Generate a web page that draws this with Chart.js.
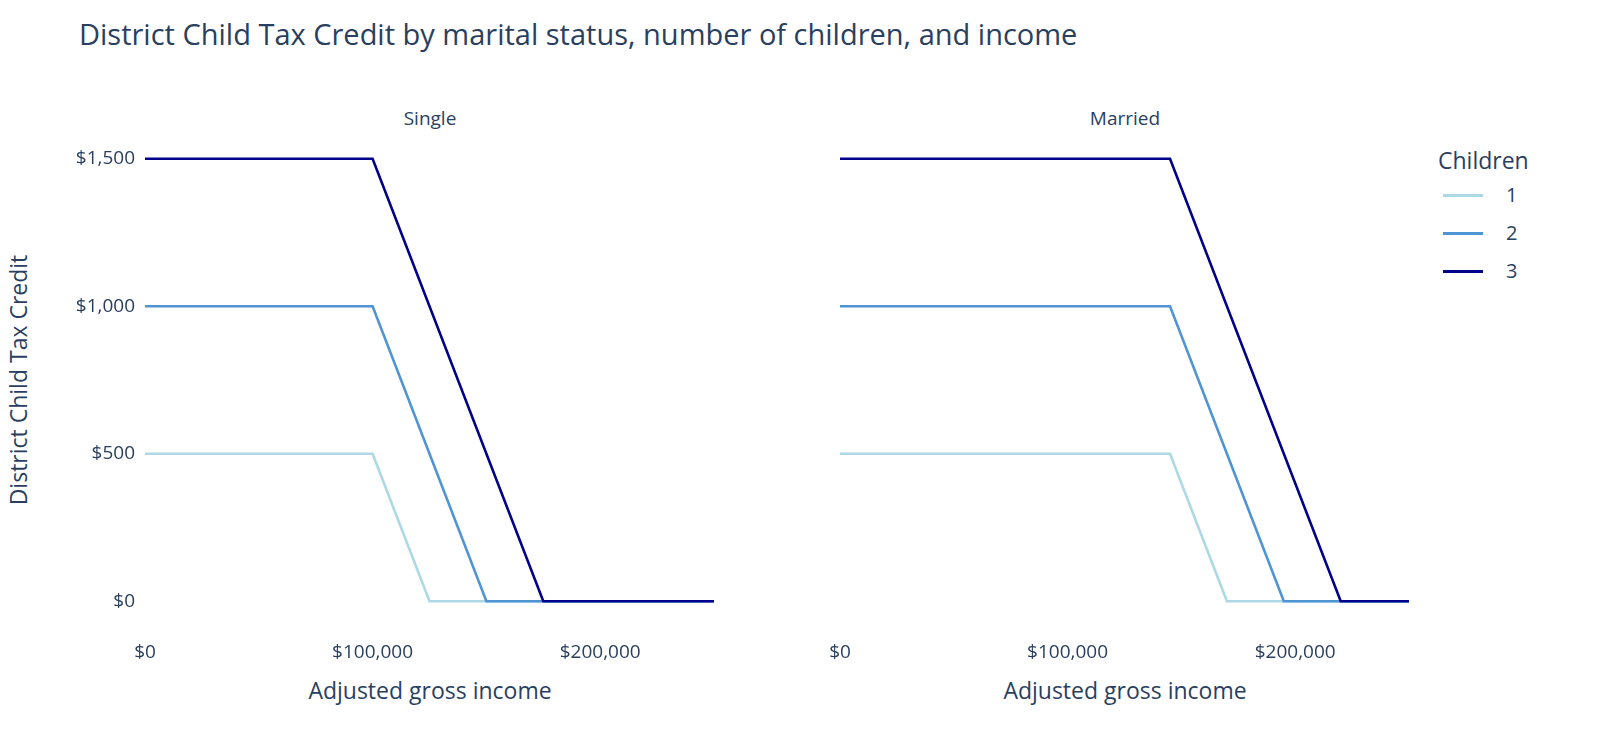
<!DOCTYPE html>
<html><head><meta charset="utf-8">
<script src="https://cdn.jsdelivr.net/npm/chart.js@4"></script>
<style>
body{margin:0;background:#fff;font-family:"Open Sans",sans-serif;color:#2a3f5f;width:1600px;height:756px;position:relative;overflow:hidden}
.t{position:absolute;white-space:nowrap}
canvas{position:absolute}
</style></head><body>
<div class="t" style="left:79px;top:14px;font-size:29px">District Child Tax Credit by marital status, number of children, and income</div>
<div class="t" style="left:430px;top:105px;font-size:19px;transform:translateX(-50%)">Single</div>
<div class="t" style="left:1125px;top:105px;font-size:19px;transform:translateX(-50%)">Married</div>
<div class="t" style="left:430px;top:674px;font-size:23px;transform:translateX(-50%)">Adjusted gross income</div>
<div class="t" style="left:1125px;top:674px;font-size:23px;transform:translateX(-50%)">Adjusted gross income</div>
<div class="t" style="left:18px;top:380px;font-size:23px;transform:translate(-50%,-50%) rotate(-90deg)">District Child Tax Credit</div>
<div class="t" style="left:1438px;top:144px;font-size:23px">Children</div>
<div id="leg"></div>
<canvas id="c1" width="740" height="619" style="left:0;top:100px"></canvas>
<canvas id="c2" width="740" height="619" style="left:695px;top:100px"></canvas>
<script>
const children = ["1","2","3"];
const colors = ["#add8e6","#4f94d4","#00008b"];
const singleX = [[0,100000,125000,250000],[0,100000,150000,250000],[0,100000,175000,250000]];
const singleY = [[500,500,0,0],[1000,1000,0,0],[1500,1500,0,0]];
const marriedX = [[0,145000,170000,250000],[0,145000,195000,250000],[0,145000,220000,250000]];
const marriedY = [[500,500,0,0],[1000,1000,0,0],[1500,1500,0,0]];
const yTicks = [0,500,1000,1500];
const xTicks = [0,100000,200000];

const leg = document.getElementById('leg');
children.forEach((c,i)=>{
  const top = 194 + i*38;
  leg.innerHTML += `<div class="t" style="left:1443px;top:${top}px;width:40px;height:3px;background:${colors[i]}"></div>
  <div class="t" style="left:1506px;top:${top-13}px;font-size:20px">${c}</div>`;
});
const fmt = v => '$' + v.toLocaleString('en-US');
function make(id, xs, ys, showY){
  new Chart(document.getElementById(id), {
    type:'line',
    data:{datasets: children.map((c,i)=>({label:c, order: children.length - i, data: xs[i].map((x,j)=>({x, y: ys[i][j]})),
      borderColor:colors[i], borderWidth:2.6, pointRadius:0, fill:false, tension:0}))},
    options:{responsive:false, animation:false, devicePixelRatio:1,
      layout:{padding:{top:41,right:26,left:0,bottom:0}},
      plugins:{legend:{display:false}, tooltip:{enabled:false}},
      scales:{
        x:{type:'linear', min:0, max:250000, grid:{display:false}, border:{display:false},
          afterBuildTicks: a => { a.ticks = xTicks.map(v=>({value:v})); },
          afterFit: a => { a.height = 100; },
          ticks:{padding:14, color:'#2a3f5f', font:{family:'Open Sans', size:19}, callback: fmt, maxRotation:0}},
        y:{min:-60, max:1560, grid:{display:false}, border:{display:false},
          afterBuildTicks: a => { a.ticks = yTicks.map(v=>({value:v})); },
          afterFit: a => { a.width = 145; },
          ticks:{display:showY, padding:2, color:'#2a3f5f', font:{family:'Open Sans', size:19}, callback: fmt}}
      }}
  });
}
make('c1', singleX, singleY, true);
make('c2', marriedX, marriedY, false);
</script>
</body></html>
